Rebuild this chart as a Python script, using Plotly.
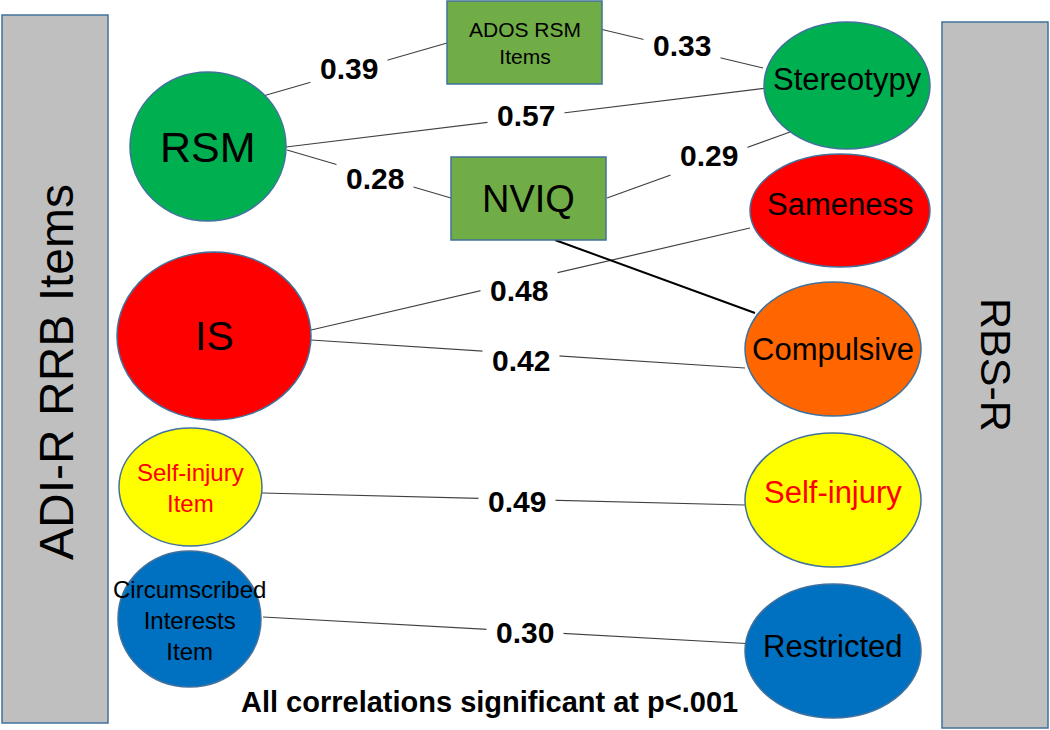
import plotly.graph_objects as go

# ---- data ----
left_nodes = ["RSM", "IS", "Self-injury<br>Item", "Circumscribed<br>Interests<br>Item"]
right_nodes = ["Stereotypy", "Sameness", "Compulsive", "Self-injury", "Restricted"]
mid_nodes = ["ADOS RSM<br>Items", "NVIQ"]
edge_from = ["RSM", "ADOS", "RSM", "RSM", "NVIQ", "IS", "IS", "SIL", "CIL"]
edge_to = ["ADOS", "Stereotypy", "Stereotypy", "NVIQ", "Stereotypy", "Sameness", "Compulsive", "SIR", "Restricted"]
correlations = [0.39, 0.33, 0.57, 0.28, 0.29, 0.48, 0.42, 0.49, 0.30]
left_title = "ADI-R RRB Items"
right_title = "RBS-R"
footnote = "All correlations significant at p<.001"

FONT = "Liberation Sans, Arial, sans-serif"
OUTLINE = "#41719C"

# node geometry (pixels, y down): key -> (shape, x0, y0, x1, y1, fill, label, size, text colour)
nodes = {
    "RSM": ("circle", 130, 72, 286, 221, "#00B050", left_nodes[0], 43, "black"),
    "IS": ("circle", 117, 252, 311, 420, "#FF0000", left_nodes[1], 41, "black"),
    "SIL": ("circle", 119, 428, 262, 546, "#FFFF00", left_nodes[2], 24, "#FF0000"),
    "CIL": ("circle", 118, 551, 261, 687, "#0070C0", left_nodes[3], 24, "black"),
    "ADOS": ("rect", 447, 1, 602, 84, "#70AD47", mid_nodes[0], 21, "black"),
    "NVIQ": ("rect", 451, 157, 606, 240, "#70AD47", mid_nodes[1], 38, "black"),
    "Stereotypy": ("circle", 764, 22, 930, 149, "#00B050", right_nodes[0], 31, "black"),
    "Sameness": ("circle", 750, 154, 930, 267, "#FF0000", right_nodes[1], 31, "black"),
    "Compulsive": ("circle", 745, 282, 921, 416, "#FF6600", right_nodes[2], 31, "black"),
    "SIR": ("circle", 745, 433, 921, 567, "#FFFF00", right_nodes[3], 31, "#FF0000"),
    "Restricted": ("circle", 745, 584, 921, 718, "#0070C0", right_nodes[4], 31, "black"),
}

# text centre offsets where the label is not centred in its node
text_shift = {"Stereotypy": (0, -6), "Sameness": (0, -6), "SIR": (0, -8), "Restricted": (0, -5),
              "CIL": (0, 1), "SIL": (0, 1)}

# edge endpoints and label positions
edge_pts = [
    ((263, 96), (447, 43), (349, 68)),
    ((600, 29), (763, 68), (682, 45)),
    ((286, 147), (767, 88), (526, 115)),
    ((287, 150), (451, 198), (375, 178)),
    ((607, 198), (790, 132), (709, 155)),
    ((311, 330), (750, 228), (519, 290)),
    ((311, 340), (745, 368), (521, 360)),
    ((262, 493), (745, 505), (517, 501)),
    ((263, 617), (755, 644), (525, 632)),
]

fig = go.Figure()
shapes = []
annotations = []

# side panels
shapes.append(dict(type="rect", x0=2, y0=15, x1=108, y1=723, fillcolor="#BFBFBF",
                   line=dict(color=OUTLINE, width=1.5), layer="below"))
shapes.append(dict(type="rect", x0=942, y0=22, x1=1048, y1=728, fillcolor="#BFBFBF",
                   line=dict(color=OUTLINE, width=1.5), layer="below"))
annotations.append(dict(x=56, y=372, text=left_title, textangle=-90, showarrow=False,
                        font=dict(family=FONT, size=48, color="black")))
annotations.append(dict(x=996, y=365, text=right_title, textangle=90, showarrow=False,
                        font=dict(family=FONT, size=43, color="black")))

# edges
for (p0, p1, lab), r in zip(edge_pts, correlations):
    shapes.append(dict(type="line", x0=p0[0], y0=p0[1], x1=p1[0], y1=p1[1],
                       line=dict(color="#404040", width=1.2), layer="below"))
    annotations.append(dict(x=lab[0], y=lab[1], text=f"<b>{r:.2f}</b>", showarrow=False,
                            bgcolor="white", borderpad=9,
                            font=dict(family=FONT, size=30, color="black")))

# NVIQ -> Compulsive (unlabelled, darker)
shapes.append(dict(type="line", x0=555, y0=240, x1=755, y1=313,
                   line=dict(color="black", width=2), layer="below"))

# nodes
for key, (kind, x0, y0, x1, y1, fill, label, size, tcol) in nodes.items():
    shapes.append(dict(type=kind, x0=x0, y0=y0, x1=x1, y1=y1, fillcolor=fill,
                       line=dict(color=OUTLINE, width=1.5), layer="above"))
    dx, dy = text_shift.get(key, (0, 0))
    annotations.append(dict(x=(x0 + x1) / 2 + dx, y=(y0 + y1) / 2 + dy, text=label,
                            showarrow=False,
                            font=dict(family=FONT, size=size, color=tcol)))

annotations.append(dict(x=489, y=702, text=f"<b>{footnote}</b>", showarrow=False,
                        font=dict(family=FONT, size=29, color="black")))

fig.update_layout(
    width=1050,
    height=730,
    margin=dict(l=0, r=0, t=0, b=0),
    paper_bgcolor="white",
    plot_bgcolor="white",
    shapes=shapes,
    annotations=annotations,
    showlegend=False,
    xaxis=dict(range=[0, 1050], visible=False, fixedrange=True),
    yaxis=dict(range=[730, 0], visible=False, fixedrange=True),
)

fig.write_html("out.html", post_script="document.body.style.margin='0';",
               config={"displayModeBar": False})
